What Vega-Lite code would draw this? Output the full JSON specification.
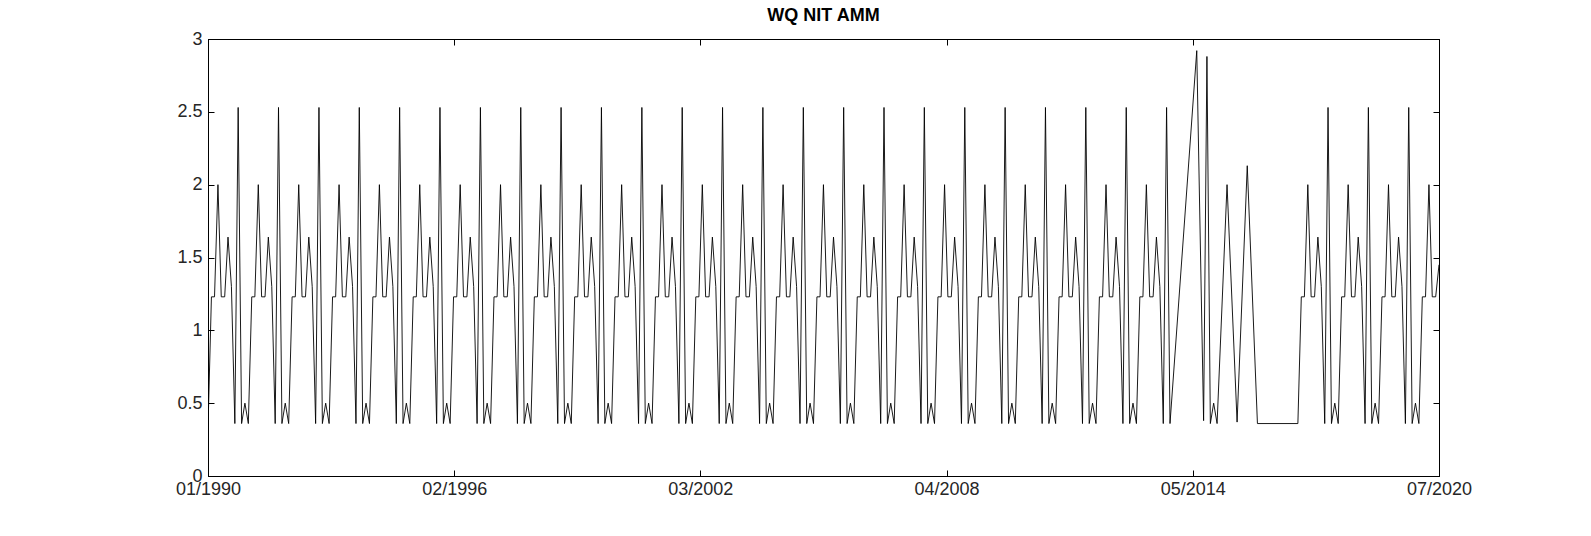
{
  "$schema": "https://vega.github.io/schema/vega-lite/v6.json",
  "width": 1231,
  "height": 437,
  "autosize": "none",
  "padding": {"left": 208, "top": 39, "right": 152, "bottom": 60},
  "background": "white",
  "title": {"text": "WQ NIT AMM", "font": "Liberation Sans", "fontSize": 18, "fontWeight": "bold", "color": "black", "offset": 5},
  "config": {
    "view": {"stroke": "black", "strokeWidth": 1},
    "axis": {
      "labelFont": "Liberation Sans", "labelFontSize": 18, "labelColor": "#262626",
      "domainColor": "black", "tickColor": "black", "tickSize": -6, "grid": false
    }
  },
  "data": {"values": [
    {"d":"1990-01-01","v":0},{"d":"1990-01-02","v":0.36},{"d":"1990-02-01","v":1.23},{"d":"1990-03-01","v":1.23},{"d":"1990-04-01","v":2.0},{"d":"1990-05-01","v":1.23},{"d":"1990-06-01","v":1.23},{"d":"1990-07-01","v":1.64},{"d":"1990-08-01","v":1.3},{"d":"1990-09-01","v":0.36},{"d":"1990-10-01","v":2.53},{"d":"1990-11-01","v":0.36},{"d":"1990-12-01","v":0.5},
    {"d":"1991-01-01","v":0.36},{"d":"1991-02-01","v":1.23},{"d":"1991-03-01","v":1.23},{"d":"1991-04-01","v":2.0},{"d":"1991-05-01","v":1.23},{"d":"1991-06-01","v":1.23},{"d":"1991-07-01","v":1.64},{"d":"1991-08-01","v":1.3},{"d":"1991-09-01","v":0.36},{"d":"1991-10-01","v":2.53},{"d":"1991-11-01","v":0.36},{"d":"1991-12-01","v":0.5},
    {"d":"1992-01-01","v":0.36},{"d":"1992-02-01","v":1.23},{"d":"1992-03-01","v":1.23},{"d":"1992-04-01","v":2.0},{"d":"1992-05-01","v":1.23},{"d":"1992-06-01","v":1.23},{"d":"1992-07-01","v":1.64},{"d":"1992-08-01","v":1.3},{"d":"1992-09-01","v":0.36},{"d":"1992-10-01","v":2.53},{"d":"1992-11-01","v":0.36},{"d":"1992-12-01","v":0.5},
    {"d":"1993-01-01","v":0.36},{"d":"1993-02-01","v":1.23},{"d":"1993-03-01","v":1.23},{"d":"1993-04-01","v":2.0},{"d":"1993-05-01","v":1.23},{"d":"1993-06-01","v":1.23},{"d":"1993-07-01","v":1.64},{"d":"1993-08-01","v":1.3},{"d":"1993-09-01","v":0.36},{"d":"1993-10-01","v":2.53},{"d":"1993-11-01","v":0.36},{"d":"1993-12-01","v":0.5},
    {"d":"1994-01-01","v":0.36},{"d":"1994-02-01","v":1.23},{"d":"1994-03-01","v":1.23},{"d":"1994-04-01","v":2.0},{"d":"1994-05-01","v":1.23},{"d":"1994-06-01","v":1.23},{"d":"1994-07-01","v":1.64},{"d":"1994-08-01","v":1.3},{"d":"1994-09-01","v":0.36},{"d":"1994-10-01","v":2.53},{"d":"1994-11-01","v":0.36},{"d":"1994-12-01","v":0.5},
    {"d":"1995-01-01","v":0.36},{"d":"1995-02-01","v":1.23},{"d":"1995-03-01","v":1.23},{"d":"1995-04-01","v":2.0},{"d":"1995-05-01","v":1.23},{"d":"1995-06-01","v":1.23},{"d":"1995-07-01","v":1.64},{"d":"1995-08-01","v":1.3},{"d":"1995-09-01","v":0.36},{"d":"1995-10-01","v":2.53},{"d":"1995-11-01","v":0.36},{"d":"1995-12-01","v":0.5},
    {"d":"1996-01-01","v":0.36},{"d":"1996-02-01","v":1.23},{"d":"1996-03-01","v":1.23},{"d":"1996-04-01","v":2.0},{"d":"1996-05-01","v":1.23},{"d":"1996-06-01","v":1.23},{"d":"1996-07-01","v":1.64},{"d":"1996-08-01","v":1.3},{"d":"1996-09-01","v":0.36},{"d":"1996-10-01","v":2.53},{"d":"1996-11-01","v":0.36},{"d":"1996-12-01","v":0.5},
    {"d":"1997-01-01","v":0.36},{"d":"1997-02-01","v":1.23},{"d":"1997-03-01","v":1.23},{"d":"1997-04-01","v":2.0},{"d":"1997-05-01","v":1.23},{"d":"1997-06-01","v":1.23},{"d":"1997-07-01","v":1.64},{"d":"1997-08-01","v":1.3},{"d":"1997-09-01","v":0.36},{"d":"1997-10-01","v":2.53},{"d":"1997-11-01","v":0.36},{"d":"1997-12-01","v":0.5},
    {"d":"1998-01-01","v":0.36},{"d":"1998-02-01","v":1.23},{"d":"1998-03-01","v":1.23},{"d":"1998-04-01","v":2.0},{"d":"1998-05-01","v":1.23},{"d":"1998-06-01","v":1.23},{"d":"1998-07-01","v":1.64},{"d":"1998-08-01","v":1.3},{"d":"1998-09-01","v":0.36},{"d":"1998-10-01","v":2.53},{"d":"1998-11-01","v":0.36},{"d":"1998-12-01","v":0.5},
    {"d":"1999-01-01","v":0.36},{"d":"1999-02-01","v":1.23},{"d":"1999-03-01","v":1.23},{"d":"1999-04-01","v":2.0},{"d":"1999-05-01","v":1.23},{"d":"1999-06-01","v":1.23},{"d":"1999-07-01","v":1.64},{"d":"1999-08-01","v":1.3},{"d":"1999-09-01","v":0.36},{"d":"1999-10-01","v":2.53},{"d":"1999-11-01","v":0.36},{"d":"1999-12-01","v":0.5},
    {"d":"2000-01-01","v":0.36},{"d":"2000-02-01","v":1.23},{"d":"2000-03-01","v":1.23},{"d":"2000-04-01","v":2.0},{"d":"2000-05-01","v":1.23},{"d":"2000-06-01","v":1.23},{"d":"2000-07-01","v":1.64},{"d":"2000-08-01","v":1.3},{"d":"2000-09-01","v":0.36},{"d":"2000-10-01","v":2.53},{"d":"2000-11-01","v":0.36},{"d":"2000-12-01","v":0.5},
    {"d":"2001-01-01","v":0.36},{"d":"2001-02-01","v":1.23},{"d":"2001-03-01","v":1.23},{"d":"2001-04-01","v":2.0},{"d":"2001-05-01","v":1.23},{"d":"2001-06-01","v":1.23},{"d":"2001-07-01","v":1.64},{"d":"2001-08-01","v":1.3},{"d":"2001-09-01","v":0.36},{"d":"2001-10-01","v":2.53},{"d":"2001-11-01","v":0.36},{"d":"2001-12-01","v":0.5},
    {"d":"2002-01-01","v":0.36},{"d":"2002-02-01","v":1.23},{"d":"2002-03-01","v":1.23},{"d":"2002-04-01","v":2.0},{"d":"2002-05-01","v":1.23},{"d":"2002-06-01","v":1.23},{"d":"2002-07-01","v":1.64},{"d":"2002-08-01","v":1.3},{"d":"2002-09-01","v":0.36},{"d":"2002-10-01","v":2.53},{"d":"2002-11-01","v":0.36},{"d":"2002-12-01","v":0.5},
    {"d":"2003-01-01","v":0.36},{"d":"2003-02-01","v":1.23},{"d":"2003-03-01","v":1.23},{"d":"2003-04-01","v":2.0},{"d":"2003-05-01","v":1.23},{"d":"2003-06-01","v":1.23},{"d":"2003-07-01","v":1.64},{"d":"2003-08-01","v":1.3},{"d":"2003-09-01","v":0.36},{"d":"2003-10-01","v":2.53},{"d":"2003-11-01","v":0.36},{"d":"2003-12-01","v":0.5},
    {"d":"2004-01-01","v":0.36},{"d":"2004-02-01","v":1.23},{"d":"2004-03-01","v":1.23},{"d":"2004-04-01","v":2.0},{"d":"2004-05-01","v":1.23},{"d":"2004-06-01","v":1.23},{"d":"2004-07-01","v":1.64},{"d":"2004-08-01","v":1.3},{"d":"2004-09-01","v":0.36},{"d":"2004-10-01","v":2.53},{"d":"2004-11-01","v":0.36},{"d":"2004-12-01","v":0.5},
    {"d":"2005-01-01","v":0.36},{"d":"2005-02-01","v":1.23},{"d":"2005-03-01","v":1.23},{"d":"2005-04-01","v":2.0},{"d":"2005-05-01","v":1.23},{"d":"2005-06-01","v":1.23},{"d":"2005-07-01","v":1.64},{"d":"2005-08-01","v":1.3},{"d":"2005-09-01","v":0.36},{"d":"2005-10-01","v":2.53},{"d":"2005-11-01","v":0.36},{"d":"2005-12-01","v":0.5},
    {"d":"2006-01-01","v":0.36},{"d":"2006-02-01","v":1.23},{"d":"2006-03-01","v":1.23},{"d":"2006-04-01","v":2.0},{"d":"2006-05-01","v":1.23},{"d":"2006-06-01","v":1.23},{"d":"2006-07-01","v":1.64},{"d":"2006-08-01","v":1.3},{"d":"2006-09-01","v":0.36},{"d":"2006-10-01","v":2.53},{"d":"2006-11-01","v":0.36},{"d":"2006-12-01","v":0.5},
    {"d":"2007-01-01","v":0.36},{"d":"2007-02-01","v":1.23},{"d":"2007-03-01","v":1.23},{"d":"2007-04-01","v":2.0},{"d":"2007-05-01","v":1.23},{"d":"2007-06-01","v":1.23},{"d":"2007-07-01","v":1.64},{"d":"2007-08-01","v":1.3},{"d":"2007-09-01","v":0.36},{"d":"2007-10-01","v":2.53},{"d":"2007-11-01","v":0.36},{"d":"2007-12-01","v":0.5},
    {"d":"2008-01-01","v":0.36},{"d":"2008-02-01","v":1.23},{"d":"2008-03-01","v":1.23},{"d":"2008-04-01","v":2.0},{"d":"2008-05-01","v":1.23},{"d":"2008-06-01","v":1.23},{"d":"2008-07-01","v":1.64},{"d":"2008-08-01","v":1.3},{"d":"2008-09-01","v":0.36},{"d":"2008-10-01","v":2.53},{"d":"2008-11-01","v":0.36},{"d":"2008-12-01","v":0.5},
    {"d":"2009-01-01","v":0.36},{"d":"2009-02-01","v":1.23},{"d":"2009-03-01","v":1.23},{"d":"2009-04-01","v":2.0},{"d":"2009-05-01","v":1.23},{"d":"2009-06-01","v":1.23},{"d":"2009-07-01","v":1.64},{"d":"2009-08-01","v":1.3},{"d":"2009-09-01","v":0.36},{"d":"2009-10-01","v":2.53},{"d":"2009-11-01","v":0.36},{"d":"2009-12-01","v":0.5},
    {"d":"2010-01-01","v":0.36},{"d":"2010-02-01","v":1.23},{"d":"2010-03-01","v":1.23},{"d":"2010-04-01","v":2.0},{"d":"2010-05-01","v":1.23},{"d":"2010-06-01","v":1.23},{"d":"2010-07-01","v":1.64},{"d":"2010-08-01","v":1.3},{"d":"2010-09-01","v":0.36},{"d":"2010-10-01","v":2.53},{"d":"2010-11-01","v":0.36},{"d":"2010-12-01","v":0.5},
    {"d":"2011-01-01","v":0.36},{"d":"2011-02-01","v":1.23},{"d":"2011-03-01","v":1.23},{"d":"2011-04-01","v":2.0},{"d":"2011-05-01","v":1.23},{"d":"2011-06-01","v":1.23},{"d":"2011-07-01","v":1.64},{"d":"2011-08-01","v":1.3},{"d":"2011-09-01","v":0.36},{"d":"2011-10-01","v":2.53},{"d":"2011-11-01","v":0.36},{"d":"2011-12-01","v":0.5},
    {"d":"2012-01-01","v":0.36},{"d":"2012-02-01","v":1.23},{"d":"2012-03-01","v":1.23},{"d":"2012-04-01","v":2.0},{"d":"2012-05-01","v":1.23},{"d":"2012-06-01","v":1.23},{"d":"2012-07-01","v":1.64},{"d":"2012-08-01","v":1.3},{"d":"2012-09-01","v":0.36},{"d":"2012-10-01","v":2.53},{"d":"2012-11-01","v":0.36},{"d":"2012-12-01","v":0.5},
    {"d":"2013-01-01","v":0.36},{"d":"2013-02-01","v":1.23},{"d":"2013-03-01","v":1.23},{"d":"2013-04-01","v":2.0},{"d":"2013-05-01","v":1.23},{"d":"2013-06-01","v":1.23},{"d":"2013-07-01","v":1.64},{"d":"2013-08-01","v":1.3},{"d":"2013-09-01","v":0.36},{"d":"2013-10-01","v":2.53},{"d":"2013-11-01","v":0.36},
    {"d":"2014-07-01","v":2.92},{"d":"2014-09-01","v":0.38},{"d":"2014-10-01","v":2.88},{"d":"2014-11-01","v":0.36},{"d":"2014-12-01","v":0.5},
    {"d":"2015-01-01","v":0.36},{"d":"2015-04-01","v":2.0},{"d":"2015-07-01","v":0.37},{"d":"2015-10-01","v":2.13},
    {"d":"2016-01-01","v":0.36},{"d":"2017-01-01","v":0.36},
    {"d":"2017-02-01","v":1.23},{"d":"2017-03-01","v":1.23},{"d":"2017-04-01","v":2.0},{"d":"2017-05-01","v":1.23},{"d":"2017-06-01","v":1.23},{"d":"2017-07-01","v":1.64},{"d":"2017-08-01","v":1.3},{"d":"2017-09-01","v":0.36},{"d":"2017-10-01","v":2.53},{"d":"2017-11-01","v":0.36},{"d":"2017-12-01","v":0.5},
    {"d":"2018-01-01","v":0.36},{"d":"2018-02-01","v":1.23},{"d":"2018-03-01","v":1.23},{"d":"2018-04-01","v":2.0},{"d":"2018-05-01","v":1.23},{"d":"2018-06-01","v":1.23},{"d":"2018-07-01","v":1.64},{"d":"2018-08-01","v":1.3},{"d":"2018-09-01","v":0.36},{"d":"2018-10-01","v":2.53},{"d":"2018-11-01","v":0.36},{"d":"2018-12-01","v":0.5},
    {"d":"2019-01-01","v":0.36},{"d":"2019-02-01","v":1.23},{"d":"2019-03-01","v":1.23},{"d":"2019-04-01","v":2.0},{"d":"2019-05-01","v":1.23},{"d":"2019-06-01","v":1.23},{"d":"2019-07-01","v":1.64},{"d":"2019-08-01","v":1.3},{"d":"2019-09-01","v":0.36},{"d":"2019-10-01","v":2.53},{"d":"2019-11-01","v":0.36},{"d":"2019-12-01","v":0.5},
    {"d":"2020-01-01","v":0.36},{"d":"2020-02-01","v":1.23},{"d":"2020-03-01","v":1.23},{"d":"2020-04-01","v":2.0},{"d":"2020-05-01","v":1.23},{"d":"2020-06-01","v":1.23},{"d":"2020-07-01","v":1.45}
  ]},
  "layer": [
    {
      "mark": {"type": "line", "color": "black", "strokeWidth": 0.9, "clip": true},
      "encoding": {
        "x": {
          "field": "d", "type": "temporal", "title": null,
          "scale": {"type": "utc", "domain": ["1990-01-01", "2020-07-01"]},
          "axis": {
            "format": "%m/%Y",
            "values": ["1990-01-01", "1996-02-07", "2002-03-13", "2008-04-19", "2014-05-25", "2020-07-01"],
            "labelFlush": false, "labelOverlap": false, "labelPadding": 10
          }
        },
        "y": {
          "field": "v", "type": "quantitative", "title": null,
          "scale": {"domain": [0, 3], "nice": false},
          "axis": {"values": [0, 0.5, 1, 1.5, 2, 2.5, 3], "format": "~g", "labelPadding": 12}
        }
      }
    },
    {
      "mark": {"type": "line", "opacity": 0},
      "encoding": {
        "x": {
          "field": "d", "type": "temporal",
          "scale": {"type": "utc", "domain": ["1990-01-01", "2020-07-01"]},
          "axis": {"orient": "top", "labels": false, "title": null, "values": ["1990-01-01", "1996-02-07", "2002-03-13", "2008-04-19", "2014-05-25", "2020-07-01"]}
        },
        "y": {
          "field": "v", "type": "quantitative",
          "scale": {"domain": [0, 3], "nice": false},
          "axis": {"orient": "right", "labels": false, "title": null, "values": [0, 0.5, 1, 1.5, 2, 2.5, 3]}
        }
      }
    }
  ],
  "resolve": {"axis": {"x": "independent", "y": "independent"}}
}
